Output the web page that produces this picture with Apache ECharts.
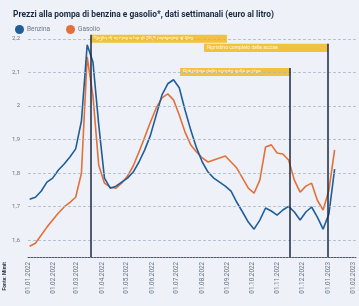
<!DOCTYPE html>
<html>
<head>
<meta charset="utf-8">
<script src="https://cdn.jsdelivr.net/npm/echarts@6/dist/echarts.min.js"></script>
<style>
html,body{margin:0;padding:0;background:#eef2f8;}
#c{width:359px;height:306px;}
</style>
</head>
<body>
<div id="c"></div>
<script>
const dates = ['2022-01-03','2022-01-10','2022-01-17','2022-01-24','2022-01-31','2022-02-07','2022-02-14','2022-02-21','2022-02-28','2022-03-07','2022-03-14','2022-03-21','2022-03-28','2022-04-04','2022-04-11','2022-04-18','2022-04-25','2022-05-02','2022-05-09','2022-05-16','2022-05-23','2022-05-30','2022-06-06','2022-06-13','2022-06-20','2022-06-27','2022-07-04','2022-07-11','2022-07-18','2022-07-25','2022-08-01','2022-08-08','2022-08-15','2022-08-22','2022-08-29','2022-09-05','2022-09-12','2022-09-19','2022-09-26','2022-10-03','2022-10-10','2022-10-17','2022-10-24','2022-10-31','2022-11-07','2022-11-14','2022-11-21','2022-11-28','2022-12-05','2022-12-12','2022-12-19','2022-12-26','2023-01-02','2023-01-09'];
const benzina = [1.722,1.728,1.746,1.773,1.785,1.809,1.827,1.848,1.872,1.955,2.182,2.131,1.945,1.785,1.755,1.761,1.773,1.785,1.803,1.833,1.869,1.913,1.973,2.033,2.066,2.078,2.054,1.988,1.928,1.875,1.833,1.803,1.785,1.773,1.761,1.746,1.713,1.684,1.654,1.633,1.660,1.696,1.687,1.675,1.690,1.701,1.684,1.660,1.684,1.699,1.669,1.633,1.678,1.812];
const gasolio = [1.582,1.591,1.615,1.639,1.660,1.681,1.699,1.713,1.728,1.800,2.146,2.030,1.824,1.770,1.758,1.755,1.770,1.791,1.821,1.863,1.907,1.952,1.994,2.024,2.036,2.018,1.973,1.922,1.884,1.863,1.845,1.833,1.839,1.845,1.851,1.833,1.815,1.785,1.755,1.740,1.779,1.878,1.884,1.860,1.857,1.839,1.779,1.743,1.761,1.770,1.719,1.690,1.749,1.869];
const yTicks = [1.6,1.7,1.8,1.9,2.0,2.1,2.2];
const eventDates = ['2022-03-18','2022-11-16','2023-01-01'];
const eventTops = [2.212,2.113,2.185];
const notes = [
  {text:'Taglio di accise e Iva di 30,5 centesimi al litro', from:'2022-03-18', to:'2022-08-31', top:2.212, bottom:2.188},
  {text:'Ripristino completo delle accise', from:'2022-08-03', to:'2023-01-01', top:2.185, bottom:2.161},
  {text:'Riduzione dello sconto sulle accise', from:'2022-07-05', to:'2022-11-16', top:2.113, bottom:2.089}
];

const FONT = 'Roboto, "Liberation Sans", sans-serif';
const chart = echarts.init(document.getElementById('c'), null, {renderer:'canvas'});
const pad = n => (n<10?'0':'')+n;

chart.setOption({
  animation:false,
  backgroundColor:'#eef2f8',
  textStyle:{fontFamily:FONT},
  title:{
    text:'Prezzi alla pompa di benzina e gasolio*, dati settimanali (euro al litro)',
    left:8, top:6,
    textStyle:{fontSize:8.4, fontWeight:'bold', color:'#1b2a40', fontFamily:FONT}
  },
  legend:{
    data:['Benzina','Gasolio'],
    left:10, top:20, icon:'circle', itemWidth:9, itemHeight:9, itemGap:16,
    textStyle:{fontSize:6.5, color:'#6a7585', padding:[0,0,0,-2]}
  },
  grid:{left:28, right:3, top:22, bottom:49},
  xAxis:{
    type:'time',
    min:'2022-01-01', max:'2023-02-04',
    minInterval:28*86400000, maxInterval:31*86400000,
    axisLine:{show:true, lineStyle:{color:'#4d5868', width:1, type:[2,1]}},
    axisTick:{show:false},
    splitLine:{show:false},
    axisLabel:{
      rotate:90, fontSize:6.3, color:'#6a7585', margin:5, hideOverlap:false,
      showMinLabel:true, showMaxLabel:true,
      formatter:function(v){
        const d=new Date(v);
        if(d.getDate()!==1) return '';
        return pad(d.getDate())+'.'+pad(d.getMonth()+1)+'.'+d.getFullYear();
      }
    }
  },
  yAxis:{
    type:'value', min:1.55, max:2.25, interval:0.05,
    axisLine:{show:false}, axisTick:{show:false}, splitLine:{show:false},
    axisLabel:{
      fontSize:6, color:'#6a7585', margin:8,
      formatter:function(v){
        const r=Math.round(v*100);
        if(r%10!==0 || yTicks.indexOf(r/100)<0) return '';
        return String(r/100).replace('.',',');
      }
    }
  },
  series:[
    {
      type:'line', data:[], z:1, silent:true,
      markLine:{
        silent:true, symbol:['none','none'], label:{show:false},
        lineStyle:{color:'#a9b5c7', width:0.8, type:[3,2]},
        data: yTicks.map(v=>({yAxis:v}))
      }
    },
    {
      name:'Gasolio', type:'line', z:3,
      data: dates.map((d,i)=>[d,gasolio[i]]),
      showSymbol:false, symbol:'none',
      lineStyle:{color:'#e2703a', width:1.6},
      itemStyle:{color:'#e2703a'}
    },
    {
      name:'Benzina', type:'line', z:4,
      data: dates.map((d,i)=>[d,benzina[i]]),
      showSymbol:false, symbol:'none',
      lineStyle:{color:'#1f5e98', width:1.6},
      itemStyle:{color:'#1f5e98'}
    },
    {
      type:'line', data:[], z:5, silent:true,
      markArea:{
        silent:true,
        itemStyle:{color:'#f1c23e', opacity:1},
        label:{show:true, position:'insideLeft', color:'#fff8e0', fontSize:5, distance:3, fontFamily:FONT},
        data: notes.map(n=>[{name:n.text, coord:[n.from,n.top]},{coord:[n.to,n.bottom]}])
      },
      markLine:{
        silent:true, symbol:['none','none'], label:{show:false},
        lineStyle:{color:'#1c2a44', width:1.5, type:'solid'},
        data: eventDates.map((d,i)=>[{coord:[d,eventTops[i]]},{coord:[d,1.55]}])
      }
    }
  ],
  graphic:[
    {type:'text', left:2, top:262, rotation:Math.PI/2,
     style:{text:'Fonte: Mimit', fontSize:5, fontWeight:'bold', fill:'#2a3445', fontFamily:FONT}}
  ]
});
</script>
</body>
</html>
